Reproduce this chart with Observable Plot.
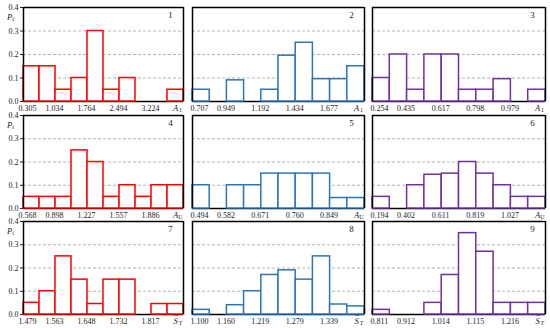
<!DOCTYPE html>
<html>
<head>
<meta charset="utf-8">
<script src="https://cdn.jsdelivr.net/npm/d3@7"></script>
<script src="https://cdn.jsdelivr.net/npm/@observablehq/plot@0.6"></script>
<style>
  body { margin: 0; background: white; }
  #chart { position: relative; width: 550px; height: 328px; background: white; overflow: hidden; }
  #chart svg { position: absolute; }
</style>
</head>
<body>
<div id="chart"></div>
<script>
// Bin indices (10 classes per histogram) and labelled class boundaries
const bins = [0, 1, 2, 3, 4, 5, 6, 7, 8, 9];
const firstTick = [0];
const innerTicks = [2, 4, 6, 8];

// Relative frequencies P_i per panel
const p1 = [0.15, 0.15, 0.05, 0.10, 0.30, 0.05, 0.10, 0, 0, 0.05];
const p2 = [0.05, 0, 0.09, 0, 0.05, 0.195, 0.25, 0.095, 0.095, 0.15];
const p3 = [0.10, 0.20, 0.05, 0.20, 0.20, 0.05, 0.05, 0.095, 0, 0.05];
const p4 = [0.05, 0.05, 0.05, 0.25, 0.20, 0.05, 0.10, 0.05, 0.10, 0.10];
const p5 = [0.10, 0, 0.10, 0.10, 0.15, 0.15, 0.15, 0.15, 0.045, 0.045];
const p6 = [0.05, 0, 0.10, 0.145, 0.15, 0.20, 0.15, 0.10, 0.05, 0.05];
const p7 = [0.05, 0.10, 0.25, 0.15, 0.045, 0.15, 0.15, 0, 0.045, 0.045];
const p8 = [0.02, 0, 0.04, 0.10, 0.17, 0.19, 0.15, 0.25, 0.043, 0.035];
const p9 = [0.02, 0, 0, 0.05, 0.17, 0.35, 0.27, 0.05, 0.05, 0.05];

// x tick labels per panel
const t1 = ["0.305", "1.034", "1.764", "2.494", "3.224"];
const t2 = ["0.707", "0.949", "1.192", "1.434", "1.677"];
const t3 = ["0.254", "0.435", "0.617", "0.798", "0.979"];
const t4 = ["0.568", "0.898", "1.227", "1.557", "1.886"];
const t5 = ["0.494", "0.582", "0.671", "0.760", "0.849"];
const t6 = ["0.194", "0.402", "0.611", "0.819", "1.027"];
const t7 = ["1.479", "1.563", "1.648", "1.732", "1.817"];
const t8 = ["1.100", "1.160", "1.219", "1.279", "1.339"];
const t9 = ["0.811", "0.912", "1.014", "1.115", "1.216"];

// Variable names per row (base letter, subscript, whether a bar is drawn above)
const varBase = ["A", "A", "S"];
const varSub = ["1", "U", "T"];
const varBar = [false, false, true];
const panelNames = ["1", "2", "3", "4", "5", "6", "7", "8", "9"];
const colors = ["#ff0000", "#2e75b6", "#7030a0"];

const values = [p1, p2, p3, p4, p5, p6, p7, p8, p9];
const tickLabels = [t1, t2, t3, t4, t5, t6, t7, t8, t9];

const colL = [23, 192, 372], colR = [183, 364, 545];
const rowT = [7, 115, 221], rowB = [101, 208, 314];

const chart = document.getElementById("chart");
const font = "Liberation Serif";

for (let r = 0; r < 3; r++) {
  for (let c = 0; c < 3; c++) {
    const k = r * 3 + c;
    const vals = values[k];
    const labels = tickLabels[k];
    const ml = c === 0 ? 23 : 10, mt = 8, mr = 6, mb = 16;
    const W = colR[c] - colL[c] + ml + mr;
    const H = rowB[r] - rowT[r] + mt + mb;
    const marks = [
      Plot.ruleY([0.1, 0.2, 0.3], {stroke: "#b4b4b4", strokeDasharray: "3,2", strokeWidth: 1}),
      Plot.ruleY([0], {stroke: "black", strokeWidth: 1.5}),
      Plot.rect(bins, {
        x1: d => d, x2: d => d + 1, y1: 0, y2: d => vals[d],
        fill: "white", stroke: colors[c], strokeWidth: 1.5
      }),
      Plot.ruleX([0, 10], {stroke: "black", strokeWidth: 1.5}),
      Plot.ruleY([0.4], {stroke: "black", strokeWidth: 1.5}),
      Plot.text(firstTick, {
        x: d => d, y: () => 0, text: () => labels[0],
        dx: c === 0 ? -5 : -2, dy: 7, fontSize: 8, fill: "#222", textAnchor: "start"
      }),
      Plot.text(innerTicks, {
        x: d => d, y: () => 0, text: (d, i) => labels[i + 1],
        dx: -1, dy: 7, fontSize: 8, fill: "#222", textAnchor: "middle"
      }),
      Plot.text([varBase[r]], {
        x: () => 10, y: () => 0, text: d => d, dx: -8, dy: 7,
        fontSize: 8.5, fontStyle: "italic", fill: "#222", textAnchor: "middle"
      }),
      Plot.text([varSub[r]], {
        x: () => 10, y: () => 0, text: d => d, dx: -3, dy: 9,
        fontSize: 6, fill: "#222", textAnchor: "middle", fontStyle: r === 2 ? "italic" : "normal"
      }),
      Plot.text([panelNames[k]], {
        x: () => 10, y: () => 0.4, text: d => d, dx: -13, dy: 7.5,
        fontSize: 9, fill: "#222", textAnchor: "middle"
      })
    ];
    if (varBar[r]) {
      marks.push(Plot.text(["\u00af"], {
        x: () => 10, y: () => 0, text: d => d, dx: -7.5, dy: 5,
        fontSize: 8.5, fill: "#222", textAnchor: "middle"
      }));
    }
    if (c === 0) {
      marks.push(
        Plot.text(["P"], {
          x: () => 0, y: () => 0.4, text: d => d, dx: -14, dy: 9.5,
          fontSize: 8.5, fontStyle: "italic", fill: "#222", textAnchor: "middle"
        }),
        Plot.text(["i"], {
          x: () => 0, y: () => 0.4, text: d => d, dx: -10.5, dy: 11.5,
          fontSize: 6, fill: "#222", textAnchor: "middle"
        })
      );
    }
    const svg = Plot.plot({
      width: W,
      height: H,
      marginLeft: ml,
      marginRight: mr,
      marginTop: mt,
      marginBottom: mb,
      style: {fontFamily: font, fontSize: "8px", background: "transparent", overflow: "visible", color: "#222"},
      x: {domain: [0, 10], axis: null},
      y: {
        domain: [0, 0.4],
        axis: c === 0 ? "left" : null,
        ticks: 4,
        tickFormat: ".1f",
        tickSize: 3,
        tickPadding: 2,
        label: null
      },
      marks
    });
    svg.style.left = (colL[c] - ml) + "px";
    svg.style.top = (rowT[r] - mt) + "px";
    chart.appendChild(svg);
  }
}
</script>
</body>
</html>
